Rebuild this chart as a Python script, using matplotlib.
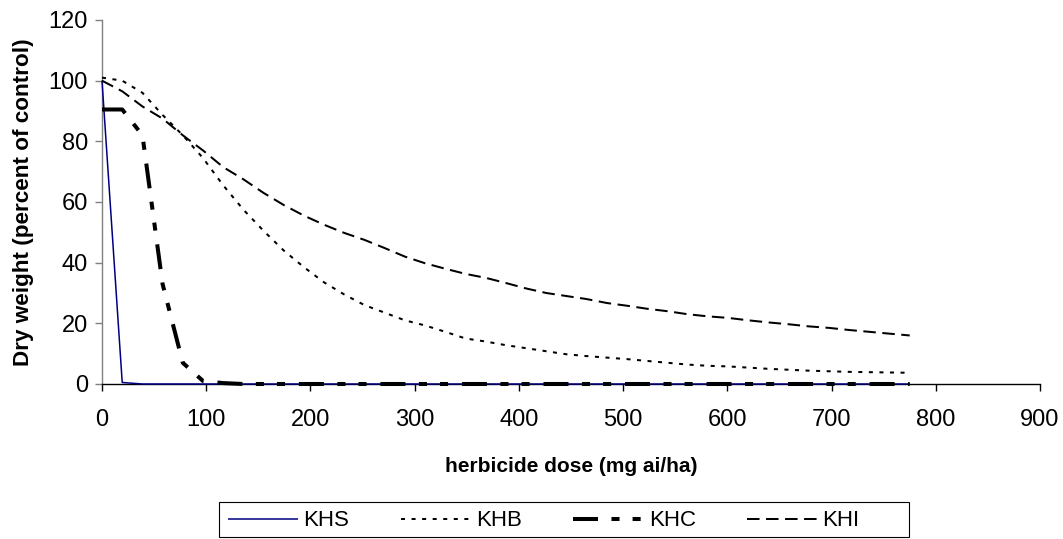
import matplotlib
matplotlib.use("Agg")
import matplotlib.pyplot as plt
from matplotlib.patches import Rectangle

plt.rcParams['font.family'] = ['Liberation Sans', 'DejaVu Sans']
plt.rcParams['lines.scale_dashes'] = False

# herbicide dose (mg ai/ha)
dose = [0, 19.4, 38.8, 58.1, 77.5, 96.9, 116.3, 135.6, 155, 174.4, 193.8,
        213.1, 232.5, 251.9, 271.3, 290.6, 310, 329.4, 348.8, 368.1, 387.5,
        406.9, 426.3, 445.6, 465, 484.4, 503.8, 523.1, 542.5, 561.9, 581.3,
        600.6, 620, 639.4, 658.8, 678.1, 697.5, 716.9, 736.3, 755.6, 775]

khs = [100, 0.5, 0, 0, 0, 0, 0, 0, 0, 0, 0,
       0, 0, 0, 0, 0, 0, 0, 0, 0, 0,
       0, 0, 0, 0, 0, 0, 0, 0, 0, 0,
       0, 0, 0, 0, 0, 0, 0, 0, 0, 0]

khb = [101, 100, 96, 88.7, 82, 74.5, 65.5, 57.5, 50.5, 44, 38.5,
       33.5, 29.5, 26, 23.5, 21, 19.3, 17.2, 15, 14, 12.8,
       11.8, 10.8, 9.8, 9.2, 8.7, 8.2, 7.6, 7, 6.4, 6,
       5.8, 5.4, 5, 4.7, 4.4, 4.2, 4, 3.9, 3.8, 3.7]

khc = [90.5, 90.5, 82, 33, 7, 1, 0.3, 0, 0, 0, 0,
       0, 0, 0, 0, 0, 0, 0, 0, 0, 0,
       0, 0, 0, 0, 0, 0, 0, 0, 0, 0,
       0, 0, 0, 0, 0, 0, 0, 0, 0, 0]

khi = [100, 96.5, 91.5, 87.5, 82, 77, 71.5, 67.5, 63, 59, 55.5,
       52.5, 49.8, 47.5, 44.8, 42, 39.8, 38, 36.3, 35, 33.3,
       31.5, 30, 29, 28, 26.7, 25.8, 24.8, 24, 23, 22.3,
       21.8, 21, 20.3, 19.7, 19, 18.5, 17.8, 17.2, 16.6, 16]

series_names = ['KHS', 'KHB', 'KHC', 'KHI']
x_ticks = [0, 100, 200, 300, 400, 500, 600, 700, 800, 900]
y_ticks = [0, 20, 40, 60, 80, 100, 120]

W, H = 1063, 539
fig = plt.figure(figsize=(W / 100, H / 100), dpi=100)
ax = fig.add_axes([102 / W, 1 - 384 / H, 938 / W, 364 / H])

FS = 17

l1, = ax.plot(dose, khs, color='#000080', lw=1.1, solid_capstyle='butt', clip_on=False, zorder=3)
l2, = ax.plot(dose, khb, color='black', lw=1.45, dashes=(2.9, 4.7), clip_on=False, zorder=3)
l3, = ax.plot(dose, khc, color='black', lw=2.9, dashes=(18, 9.7, 5.8, 9.4, 5.8, 10),
              dash_capstyle='butt', clip_on=False, zorder=4)
l4, = ax.plot(dose, khi, color='black', lw=1.45, dashes=(9, 4.7), clip_on=False, zorder=3)

ax.set_xlim(0, 900)
ax.set_ylim(0, 120)
ax.set_xticks(x_ticks)
ax.set_yticks(y_ticks)
ax.tick_params(axis='x', direction='out', length=5, width=1, colors='black',
               labelsize=FS, pad=13)
ax.tick_params(axis='y', direction='out', length=5, width=1, color='#808080',
               labelcolor='black', labelsize=FS, pad=5)

for s in ['top', 'right']:
    ax.spines[s].set_visible(False)
ax.spines['left'].set_color('#808080')
ax.spines['bottom'].set_color('black')
ax.spines['left'].set_linewidth(1)
ax.spines['bottom'].set_linewidth(1)

ax.set_xlabel('herbicide dose (mg ai/ha)', fontsize=15, fontweight='bold')
ax.set_ylabel('Dry weight (percent of control)', fontsize=16.2, fontweight='bold')
ax.xaxis.set_label_coords(0.5, -0.2)
ax.yaxis.set_label_coords(-0.073, 0.5)

leg = fig.legend([l1, l2, l3, l4], series_names, loc='center left',
                 bbox_to_anchor=(228 / W, 1 - 521 / H), ncol=4, frameon=False,
                 fontsize=16, handlelength=3.15, handletextpad=0.25,
                 columnspacing=2.3, borderpad=0, borderaxespad=0)

fig.patches.append(Rectangle((219 / W, 1 - 537 / H), (909 - 219) / W, (537 - 502) / H,
                             transform=fig.transFigure, fill=False,
                             edgecolor='black', lw=0.8))

fig.savefig('out.png', dpi=100)
